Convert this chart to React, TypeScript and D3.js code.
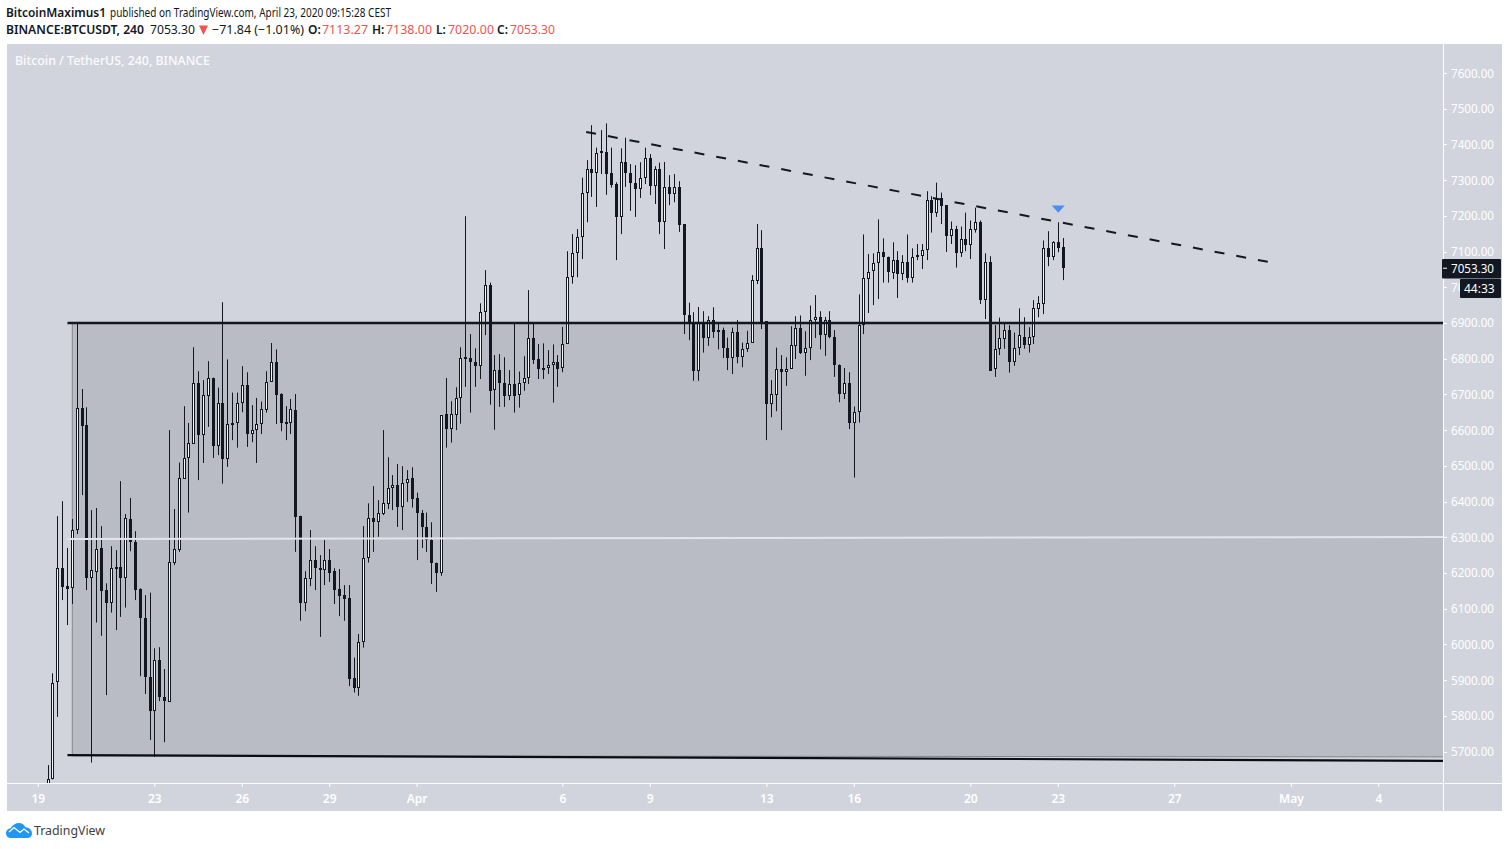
import React from "react";
import * as d3 from "d3";

const W = 1509, H = 849;
const FONT = "'Noto Sans', sans-serif";
const FIRST_BAR = 2;

const opens = [
5583,5622,5895,6215,6163,6157,6319,6661,6613,6185,
6203,6269,6152,6115,6216,6216,6187,6350,6288,6154,
6075,5909,5814,5955,5854,5839,6229,6265,6464,6521,
6562,6733,6587,6696,6745,6556,6677,6520,6615,6620,
6677,6725,6590,6601,6618,6657,6736,6792,6700,6622,
6621,6656,6359,6117,6184,6236,6215,6209,6236,6205,
6154,6137,6129,5905,5879,6007,6243,6355,6344,6366,
6394,6439,6445,6385,6453,6465,6411,6369,6330,6292,
6229,6199,6644,6604,6643,6691,6804,6801,6792,6780,
6932,7005,6713,6767,6733,6696,6728,6697,6731,6747,
6857,6798,6775,6775,6783,6792,6773,6842,7030,7097,
7141,7265,7330,7321,7381,7380,7319,7289,7197,7352,
7321,7292,7276,7307,7361,7284,7330,7183,7282,7262,
7282,7176,6922,6899,6766,6899,6858,6907,6880,6880,
6831,6802,6876,6805,6827,6845,7017,7111,6905,6674,
6699,6770,6763,6772,6836,6885,6817,6829,6907,6918,
6866,6907,6862,6781,6702,6731,6621,6651,6893,7024,
7046,7069,7100,7086,7041,7075,7038,7072,7027,7090,
7088,7103,7243,7209,7249,7229,7144,7162,7097,7134,
7119,7161,7184,6965,7072,6770,6828,6856,6879,6791,
6831,6862,6839,6861,6940,6954,7111,7085,7127,7113.27,
];
const closes = [
5622,5893,6215,6161,6156,6319,6661,6612,6187,6207,
6266,6150,6117,6213,6212,6187,6353,6287,6152,6075,
5909,5814,5955,5853,5842,6232,6266,6467,6521,6565,
6731,6587,6697,6745,6556,6675,6520,6616,6621,6677,
6725,6590,6601,6616,6658,6736,6792,6699,6621,6621,
6658,6357,6117,6185,6235,6215,6209,6235,6201,6152,
6136,6128,5904,5878,6007,6243,6355,6343,6367,6395,
6439,6445,6385,6453,6462,6408,6369,6329,6292,6229,
6201,6641,6604,6644,6691,6803,6802,6791,6780,6932,
7005,6710,6767,6733,6696,6728,6696,6731,6747,6857,
6797,6772,6772,6783,6791,6772,6842,7030,7097,7142,
7265,7330,7321,7377,7377,7318,7287,7197,7352,7321,
7293,7276,7305,7361,7284,7330,7183,7282,7262,7282,
7174,6923,6899,6766,6899,6858,6907,6875,6875,6830,
6802,6876,6805,6828,6845,7019,7111,6902,6674,6700,
6770,6763,6772,6837,6885,6815,6829,6907,6918,6866,
6907,6860,6782,6702,6731,6621,6651,6893,7025,7044,
7069,7100,7085,7043,7075,7038,7072,7027,7085,7085,
7103,7243,7209,7246,7228,7144,7162,7097,7134,7119,
7162,7184,6964,7072,6766,6826,6857,6879,6791,6831,
6865,6838,6862,6941,6955,7111,7085,7127,7111,7053.3,
];
const highs = [
5662,5919,6359,6401,6270,6351,6899,6715,6664,6376,
6382,6331,6171,6275,6264,6457,6365,6410,6317,6157,
6138,6145,5989,5992,5931,6600,6379,6509,6667,6620,
6832,6765,6740,6793,6747,6719,6958,6798,6705,6705,
6779,6762,6670,6690,6680,6765,6844,6826,6703,6667,
6687,6701,6360,6205,6320,6275,6250,6292,6267,6213,
6211,6166,6166,5963,6029,6331,6395,6443,6404,6600,
6524,6474,6505,6499,6488,6496,6425,6376,6369,6342,
6229,6642,6746,6681,6720,6832,7199,6869,6829,6955,
7048,7013,6810,6813,6804,6768,6899,6764,6807,6992,
6899,6841,6843,6824,6840,6810,6889,7101,7149,7163,
7307,7356,7454,7391,7440,7459,7391,7294,7389,7419,
7345,7342,7350,7391,7373,7339,7349,7351,7314,7317,
7297,7176,6957,6930,6945,6933,6919,6944,6897,6887,
6859,6887,6908,6845,6878,7034,7177,7160,6905,6740,
6831,6810,6804,6891,6919,6921,6877,6949,6978,6933,
6917,6933,6880,6784,6774,6762,6666,6980,7148,7093,
7095,7190,7137,7086,7126,7101,7090,7148,7109,7121,
7121,7269,7255,7293,7265,7229,7184,7172,7170,7209,
7187,7223,7187,7095,7087,6894,6915,6902,6894,6873,
6941,6916,6888,6964,6975,7131,7157,7129,7182,7138,
];
const lows = [
5564,5622,5797,6124,6054,6113,6309,6418,6152,5669,
6061,6024,5858,6089,6040,6077,6103,6261,6124,5911,
5861,5732,5685,5841,5726,5839,6222,6259,6464,6369,
6562,6460,6508,6609,6522,6530,6450,6497,6572,6551,
6650,6553,6566,6508,6589,6649,6736,6617,6597,6572,
6589,6259,6066,6093,6163,6152,6021,6166,6175,6113,
6079,6066,5883,5865,5856,5991,6229,6259,6301,6362,
6379,6376,6329,6320,6399,6383,6236,6270,6259,6169,
6147,6192,6551,6565,6600,6618,6721,6649,6721,6743,
6866,6671,6601,6665,6665,6684,6649,6663,6710,6729,
6785,6743,6743,6757,6677,6721,6762,6842,7010,7028,
7079,7182,7253,7225,7317,7259,7279,7076,7149,7281,
7214,7197,7250,7289,7258,7233,7149,7107,7230,7238,
7155,6869,6852,6738,6738,6817,6836,6858,6826,6802,
6768,6757,6787,6776,6819,6845,7009,6883,6572,6636,
6653,6600,6724,6772,6799,6813,6752,6796,6858,6826,
6808,6857,6749,6678,6687,6603,6467,6621,6869,6928,
6950,6967,7013,7013,7023,6970,7020,7013,7013,7076,
7051,7076,7153,7197,7177,7099,7121,7055,7085,7101,
7079,7153,6953,6911,6766,6749,6810,6828,6761,6780,
6810,6828,6817,6841,6916,6925,7059,7076,7098,7020,
];

const priceTicks = d3.range(5700, 7601, 100);
const dateLabels = ["19","23","26","29","Apr","6","9","13","16","20","23","27","May","4"];
const dateBars = [0,24,42,60,78,108,126,150,168,192,210,234,258,276];

const supportLevels = [5690, 5674];
const rangeBottom = [5688, 5685];
const resistanceLevel = 6900;
const midLevels = [6295, 6301];
const trendPrices = [7435, 7071];
const trendBars = [112.8, 253.2];
const lineStartBar = 6;
const rectStartBar = 7;
const signalBar = 210;
const signalPrice = 7219;
const lastPrice = 7053.3;

const PANE_L = 7, PANE_R = 1443, PANE_T = 44, PANE_B = 783, AXIS_R = 1502, AXIS_B = 811;
const DARK = "#131722";
const BG = "#d1d4dc";

const x = d3.scaleLinear().domain([0, 276]).range([38.3, 38.3 + 276 * 4.857]);
const y = d3.scaleLinear().domain([5700, 7600]).range([751.5, 73]);

const col = (b: number) => Math.floor(x(b));

function Candles() {
  return (
    <g>
      {opens.map((o, i) => {
        const c = closes[i];
        const cx = col(i + FIRST_BAR);
        const up = c >= o;
        const top = Math.round(y(Math.max(o, c)));
        const bot = Math.round(y(Math.min(o, c)));
        return (
          <g key={i}>
            <line x1={cx + 0.5} x2={cx + 0.5} y1={y(highs[i])} y2={y(lows[i])} stroke={DARK} strokeWidth={1} />
            {up ? (
              <rect x={cx - 0.5} width={2} y={top + 0.5} height={Math.max(bot - top - 1, 1)} fill="#f6f7f9" stroke={DARK} strokeWidth={1} />
            ) : (
              <rect x={cx - 1} width={3} y={top} height={Math.max(bot - top, 2)} fill={DARK} />
            )}
          </g>
        );
      })}
    </g>
  );
}

export default function App() {
  const rectPts = `${x(rectStartBar)},${y(resistanceLevel)} ${PANE_R},${y(resistanceLevel)} ${PANE_R},${y(rangeBottom[1])} ${x(rectStartBar)},${y(rangeBottom[0])}`;
  const triX = x(signalBar), triY = y(signalPrice);
  const t1: React.CSSProperties = { fontFamily: FONT, fontSize: 12 };
  const axisText: React.CSSProperties = { fontFamily: FONT, fontSize: 12 };
  return (
    <svg width={W} height={H} viewBox={`0 0 ${W} ${H}`} style={{ position: "absolute", left: 0, top: 0, background: "#fff", display: "block" }}>
      <defs>
        <clipPath id="pane"><rect x={PANE_L} y={PANE_T} width={PANE_R - PANE_L} height={PANE_B - PANE_T} /></clipPath>
      </defs>

      <rect x={PANE_L} y={PANE_T} width={AXIS_R - PANE_L} height={AXIS_B - PANE_T} fill={BG} />

      <g style={t1} fill={DARK}>
        <text x={6} y={17} fontWeight={600} textLength={100} lengthAdjust="spacingAndGlyphs">BitcoinMaximus1</text>
        <text x={110} y={17} textLength={281} lengthAdjust="spacingAndGlyphs">published on TradingView.com, April 23, 2020 09:15:28 CEST</text>
        <text x={6} y={34} fontWeight={600} textLength={138} lengthAdjust="spacingAndGlyphs">BINANCE:BTCUSDT, 240</text>
        <text x={150} y={34} textLength={45} lengthAdjust="spacingAndGlyphs">7053.30</text>
        <path d="M199,25.5 L208,25.5 L203.5,35 Z" fill="#f05350" />
        <text x={212} y={34} textLength={92} lengthAdjust="spacingAndGlyphs">−71.84 (−1.01%)</text>
        <text x={308} y={34} fontWeight={600}>O:</text>
        <text x={322} y={34} fill="#ef5350" textLength={46} lengthAdjust="spacingAndGlyphs">7113.27</text>
        <text x={372} y={34} fontWeight={600}>H:</text>
        <text x={386} y={34} fill="#ef5350" textLength={46} lengthAdjust="spacingAndGlyphs">7138.00</text>
        <text x={436} y={34} fontWeight={600}>L:</text>
        <text x={448} y={34} fill="#ef5350" textLength={46} lengthAdjust="spacingAndGlyphs">7020.00</text>
        <text x={497} y={34} fontWeight={600}>C:</text>
        <text x={510} y={34} fill="#ef5350" textLength={45} lengthAdjust="spacingAndGlyphs">7053.30</text>
      </g>

      <text x={15} y={65} fill="#fbfbfd" fontWeight={500} style={t1} textLength={195} lengthAdjust="spacingAndGlyphs">Bitcoin / TetherUS, 240, BINANCE</text>

      <g clipPath="url(#pane)">
        <polygon points={rectPts} fill="#b9bcc4" />
        <line x1={x(rectStartBar)} x2={x(rectStartBar)} y1={y(resistanceLevel)} y2={y(rangeBottom[0])} stroke="#85878d" strokeWidth={1} />
        <line x1={x(rectStartBar)} x2={PANE_R} y1={y(rangeBottom[0])} y2={y(rangeBottom[1])} stroke="#85878d" strokeWidth={1} />
        <Candles />
        <line x1={x(lineStartBar)} x2={PANE_R} y1={y(resistanceLevel)} y2={y(resistanceLevel)} stroke={DARK} strokeWidth={2.4} />
        <line x1={x(lineStartBar)} x2={PANE_R} y1={y(midLevels[0])} y2={y(midLevels[1])} stroke="#e4e5e8" strokeWidth={2} />
        <line x1={x(lineStartBar)} x2={PANE_R} y1={y(supportLevels[0])} y2={y(supportLevels[1])} stroke="#0b0d12" strokeWidth={2.2} />
        <line x1={x(trendBars[0])} x2={x(trendBars[1])} y1={y(trendPrices[0])} y2={y(trendPrices[1])} stroke={DARK} strokeWidth={2} strokeDasharray="10 12.06" />
        <path d={`M${triX - 6.5},${triY - 3.5} L${triX + 6.5},${triY - 3.5} L${triX},${triY + 3.8} Z`} fill="#4a8ff0" />
      </g>

      <line x1={PANE_R + 0.5} x2={PANE_R + 0.5} y1={PANE_T} y2={AXIS_B} stroke="#fff" />
      <line x1={PANE_L} x2={AXIS_R} y1={PANE_B + 0.5} y2={PANE_B + 0.5} stroke="#fff" />

      <g style={axisText} fill="#fff">
        {priceTicks.map((p) => (
          <g key={p}>
            <line x1={PANE_R} x2={PANE_R + 4} y1={Math.round(y(p)) + 0.5} y2={Math.round(y(p)) + 0.5} stroke="#fff" />
            <text x={1451} y={y(p) + 4.5} textLength={43} lengthAdjust="spacingAndGlyphs">{p.toFixed(2)}</text>
          </g>
        ))}
        {dateLabels.map((d, i) => (
          <g key={i}>
            <line x1={x(dateBars[i]) } x2={x(dateBars[i])} y1={PANE_B} y2={PANE_B + 4} stroke="#fff" />
            <text x={x(dateBars[i])} y={803} textAnchor="middle" fontWeight={600}>{d}</text>
          </g>
        ))}
      </g>

      <rect x={1442} y={259} width={59} height={19.5} fill={DARK} rx={1} />
      <line x1={PANE_R} x2={PANE_R + 4} y1={y(lastPrice)} y2={y(lastPrice)} stroke="#fff" />
      <text x={1451} y={273} fill="#fff" style={axisText} textLength={43} lengthAdjust="spacingAndGlyphs">7053.30</text>
      <rect x={1460} y={279} width={41} height={19} fill={DARK} rx={1} />
      <text x={1464} y={293} fill="#fff" style={axisText}>44:33</text>

      <path d="M11,838 C7.5,838 6,835.5 6,833 C6,830.5 8,828.5 10.5,828.3 C12.5,825 15.5,823 19,823 C22,823 24.5,825 25.5,827.3 C29,827.5 32,830 32,833.5 C32,836.5 30,838 27,838 Z" fill="#2196f3" />
      <polyline points="9,832 14,827.5 20,832.5 24,829 29,833" fill="none" stroke="#fff" strokeWidth={1.3} />
      <text x={34} y={835} fill="#3c4043" style={{ fontFamily: FONT, fontSize: 13 }} textLength={71} lengthAdjust="spacingAndGlyphs">TradingView</text>
    </svg>
  );
}
